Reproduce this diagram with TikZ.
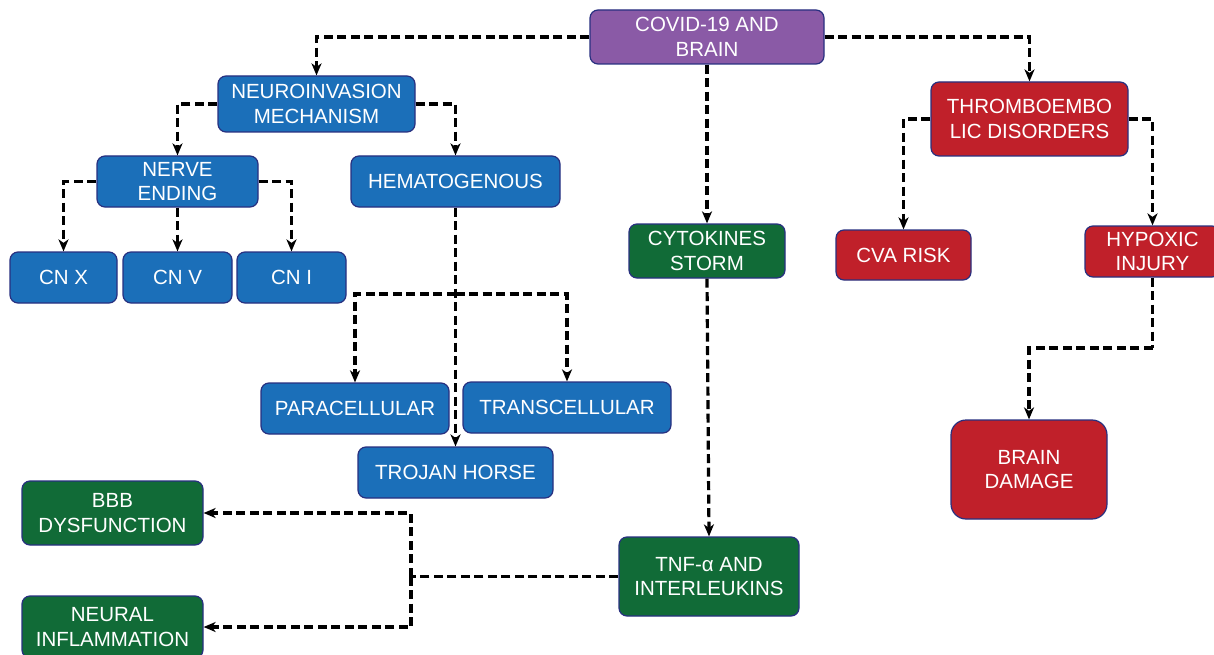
\documentclass[tikz,border=0pt]{standalone}
\usepackage{fontspec}
\setmainfont{Liberation Sans}
\usetikzlibrary{arrows.meta}
\definecolor{cblue}{HTML}{1B6FB9}
\definecolor{cpurple}{HTML}{8A5AA6}
\definecolor{cred}{HTML}{C0202A}
\definecolor{cgreen}{HTML}{116B37}
\definecolor{cborder}{HTML}{283080}
\tikzset{
  boxnode/.style={draw=cborder, line width=1.2pt, rounded corners=8pt, text=white,
    align=center, inner sep=0pt, font=\fontsize{20.5}{24.5}\selectfont},
  bl/.style={boxnode, fill=cblue},
  pu/.style={boxnode, fill=cpurple},
  rd/.style={boxnode, fill=cred},
  gr/.style={boxnode, fill=cgreen},
  conn/.style={draw=black, line width=3.2pt, dash pattern=on 9pt off 4.5pt,
    -{Stealth[length=12pt,width=10pt,inset=3.5pt]}},
  connplain/.style={draw=black, line width=3.2pt, dash pattern=on 9pt off 4.5pt},
}
\begin{document}
\begin{tikzpicture}[x=1pt,y=-1pt]
\useasboundingbox[fill=white] (0,0) rectangle (1214,655);
% nodes
\node[pu, minimum width=234, minimum height=54] (covid) at (707,37) {COVID-19 AND\\BRAIN};
\node[bl, minimum width=197, minimum height=56] (neuro) at (316.5,104) {NEUROINVASION\\MECHANISM};
\node[bl, minimum width=161, minimum height=51] (nerve) at (177.5,181.5) {NERVE\\ENDING};
\node[bl, minimum width=209, minimum height=51] (hemato) at (455.5,181.5) {HEMATOGENOUS};
\node[bl, minimum width=107, minimum height=51] (cnx) at (63.5,277.5) {CN X};
\node[bl, minimum width=109, minimum height=51] (cnv) at (177.5,277.5) {CN V};
\node[bl, minimum width=109, minimum height=51] (cni) at (291.5,277.5) {CN I};
\node[bl, minimum width=188, minimum height=51] (para) at (355,408.5) {PARACELLULAR};
\node[bl, minimum width=208, minimum height=51] (trans) at (567,407.5) {TRANSCELLULAR};
\node[bl, minimum width=195, minimum height=51] (trojan) at (455.5,472.5) {TROJAN HORSE};
\node[gr, minimum width=181, minimum height=64] (bbb) at (112.5,513) {BBB\\DYSFUNCTION};
\node[gr, minimum width=181, minimum height=62] (neural) at (112.5,627) {NEURAL\\INFLAMMATION};
\node[gr, minimum width=180, minimum height=79] (tnf) at (709,576.5) {TNF-α AND\\INTERLEUKINS};
\node[gr, minimum width=156, minimum height=54] (cyto) at (707,251) {CYTOKINES\\STORM};
\node[rd, minimum width=197, minimum height=74] (thrombo) at (1029.5,119) {THROMBOEMBO\\LIC DISORDERS};
\node[rd, minimum width=135, minimum height=50] (cva) at (903.5,255) {CVA RISK};
\node[rd, minimum width=135, minimum height=51] (hypoxic) at (1152.5,251.5) {HYPOXIC\\INJURY};
\node[rd, minimum width=156, minimum height=99, rounded corners=15pt] (brain) at (1029,469.5) {BRAIN\\DAMAGE};
% coordinates
\coordinate (br) at (455.5,294);
\coordinate (hb) at (1152.5,348);
\coordinate (tj) at (411,576.5);
% connectors
\draw[conn] (covid.west) -| (neuro.north);
\draw[conn] (covid.east) -| (thrombo.north);
\draw[conn] (covid.south) -- (cyto.north);
\draw[conn] (neuro.west) -| (nerve.north);
\draw[conn] (neuro.east) -| (hemato.north);
\draw[conn] (nerve.west) -| (cnx.north);
\draw[conn] (nerve.south) -- (cnv.north);
\draw[conn] (nerve.east) -| (cni.north);
\draw[conn] (hemato.south) -- (trojan.north);
\draw[conn] (br) -| (para.north);
\draw[conn] (br) -| (trans.north);
\draw[conn] (thrombo.west) -| (cva.north);
\draw[conn] (thrombo.east) -| (hypoxic.north);
\draw[connplain] (hypoxic.south) -- (hb);
\draw[conn] (hb) -| (brain.north);
\draw[conn] (cyto.south) -- (tnf.north);
\draw[connplain] (tnf.west) -- (tj);
\draw[conn] (tj) |- (bbb.east);
\draw[conn] (tj) |- (neural.east);
\end{tikzpicture}
\end{document}
